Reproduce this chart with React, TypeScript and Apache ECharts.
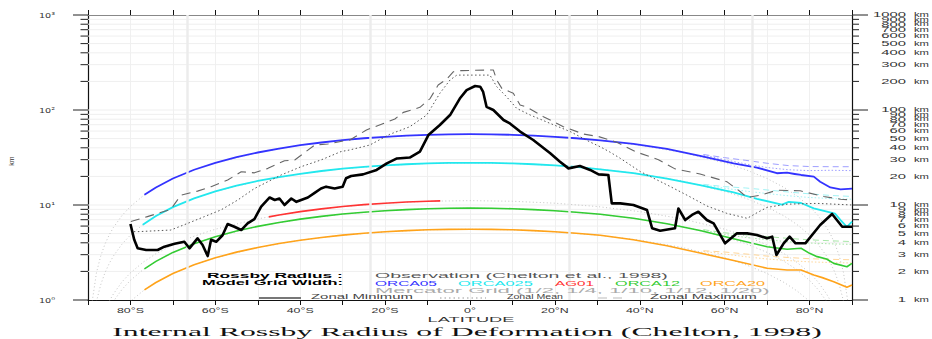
import React, { useEffect, useRef } from 'react';
import * as echarts from 'echarts';

// ---------------- data ----------------
const yTickValues = [1, 2, 3, 4, 5, 6, 7, 8, 9, 10, 20, 30, 40, 50, 60, 70, 80, 90, 100, 200, 300, 400, 500, 600, 700, 800, 900, 1000];
const yMajorLabels: Record<number, string> = { 1: '10⁰', 10: '10¹', 100: '10²', 1000: '10³' };
const xLabelValues = [-80, -60, -40, -20, 0, 20, 40, 60, 80];
const xLabelTexts = ['80°S', '60°S', '40°S', '20°S', '0°', '20°N', '40°N', '60°N', '80°N'];
const specialLats = [-66.56, -23.44, 23.44, 66.56];

// Observation (Chelton et al., 1998) — zonal minimum (thick black)
const obsMinLat = [-80, -79.1, -78.3, -76.3, -73.6, -72, -69.6, -67.3, -66.1, -64.2, -63, -61.8, -61, -59.8, -58.3, -57.1, -55.5, -53.9, -52.4, -50.8, -49.2, -47.2, -46, -44.9, -43.7, -42.1, -40.9, -38.2, -36.6, -35.1, -33.9, -31.9, -30, -29.2, -28, -25.2, -22, -19.6, -17.2, -14.2, -11.8, -9.8, -7.1, -4.7, -2.4, -0.8, 1.2, 2.4, 3.1, 3.9, 5.5, 7.9, 9.4, 11.8, 14.9, 18.9, 21.2, 23.2, 25.9, 28.3, 30.3, 32.6, 33.4, 35.4, 38.5, 41.7, 42.9, 44.8, 48.3, 49.1, 50.7, 52.3, 53.8, 55.8, 57.4, 60.1, 62.9, 65.3, 67.6, 70, 71.2, 72.2, 73.9, 75.3, 76.7, 79, 82.5, 85.3, 87.7, 90];
const obsMin = [6.3, 4.3, 3.5, 3.36, 3.36, 3.64, 3.9, 4.1, 3.5, 4.46, 3.8, 2.9, 4.3, 4.1, 4.8, 6.3, 5.9, 5.45, 6.4, 7.1, 9.6, 12.0, 11.3, 11.7, 10.0, 11.7, 10.8, 12.0, 13.4, 14.9, 15.6, 14.9, 15.6, 19.1, 20.2, 21.0, 23.4, 27.4, 30.9, 31.6, 36.5, 54.5, 69.5, 88.5, 132, 162, 179, 176, 155, 108, 100, 78.5, 72.2, 59.3, 48.3, 35, 28.6, 24.3, 25.7, 23.4, 21.0, 20.7, 10.4, 10.4, 10.0, 8.86, 5.7, 5.36, 5.7, 9.2, 6.95, 7.86, 8.5, 6.95, 6.4, 3.95, 5.03, 5.03, 4.83, 4.46, 4.64, 2.98, 3.95, 4.64, 3.95, 3.95, 6.16, 8.05, 5.9, 5.9];
// Observation — zonal mean (dotted)
const obsMeanLat = [-79.2, -78.3, -70.5, -66.5, -62.6, -58.7, -54.7, -50.8, -44.5, -39.8, -35.1, -30.4, -28.3, -23.6, -18.9, -14.2, -10.2, -7.1, -4.7, -3.1, 4.7, 6.3, 8.6, 11, 14.2, 18.9, 23.6, 28.3, 30.7, 33, 35.4, 40.1, 46.4, 51.1, 55.8, 60.5, 65.3, 67.6, 70, 74.7, 81.8, 90];
const obsMean = [5.24, 5.24, 5.45, 6.41, 7.54, 8.86, 11.3, 14.9, 20.7, 25.3, 29.8, 36.5, 38, 42.8, 55.5, 66.6, 88.5, 150, 207, 233, 233, 176, 138, 104, 88.5, 72.2, 59.3, 46, 41, 36, 31, 22.5, 16.3, 12.7, 9.77, 8.17, 7.24, 8.28, 9.44, 10.2, 10.4, 10.0];
// Observation — zonal maximum (dashed)
const obsMaxLat = [-79.9, -76, -70.5, -68.1, -64.2, -61, -57.1, -53.9, -50.8, -47.6, -43.7, -41.3, -36.6, -33.5, -29.6, -28.3, -24.4, -20.4, -17.7, -15.7, -11.8, -9.4, -7.5, -5.5, -3.9, -2, 5.5, 6.3, 7.5, 10.2, 11.8, 13.4, 17.3, 22, 26.7, 30.3, 34.6, 39.3, 44.4, 48.3, 54.2, 60.5, 63.7, 65.3, 68.4, 72.3, 77.8, 83.3, 87.3, 90];
const obsMax = [6.7, 7.54, 9.0, 12.7, 14.0, 15.6, 18.3, 22.4, 21.8, 24.3, 29.2, 29.8, 42.8, 43.9, 47.5, 48.3, 61.6, 72.2, 80.4, 94.4, 106.7, 132, 183, 211, 253, 260, 264, 207, 169, 150, 113, 107, 85, 66.8, 55.9, 52.5, 45.7, 36, 30, 24, 21.2, 17.6, 13.8, 12.0, 12.7, 14.3, 14.1, 12.3, 11.5, 11.3];

// Model grid width — zonal minimum (solid colours)
const orca05Lat = [-76.7, -74, -70, -65, -60, -55, -50, -45, -40, -35, -30, -25, -20, -15, -10, -5, 0, 5, 10, 15, 20, 25, 30.7, 38.5, 46.4, 54.2, 62.1, 67.6, 72.3, 74.7, 76.5, 78, 81, 82.5, 84.9, 87.3, 90];
const orca05 = [12.8, 15.3, 19.0, 23.5, 27.8, 31.9, 35.7, 39.3, 42.6, 45.5, 48.2, 50.4, 52.2, 53.7, 54.8, 55.4, 55.6, 55.4, 54.8, 53.7, 52.2, 50.4, 48, 44, 39, 32.8, 27.5, 24.8, 21.6, 21.9, 21.2, 20.7, 19.9, 17.6, 15.3, 14.6, 14.9];
const orca025Lat = [-77.1, -74, -70, -65, -60, -55, -50, -45, -40, -35, -30, -25, -20, -15, -10, -5, 0, 5, 10, 15, 20, 25, 30.7, 38.5, 46.4, 54.2, 62.1, 67.6, 73.5, 75.1, 78, 81, 84.1, 86, 87.3, 88.8, 90];
const orca025 = [6.2, 7.66, 9.5, 11.75, 13.9, 15.95, 17.9, 19.7, 21.3, 22.8, 24.1, 25.2, 26.1, 26.85, 27.4, 27.7, 27.8, 27.7, 27.4, 26.85, 26.1, 25.2, 23.7, 21.6, 18.9, 16.2, 13.6, 11.6, 10.1, 10.8, 10.5, 9.2, 8.5, 8.1, 6.95, 5.9, 6.7];
const ag01Lat = [-47.4, -45, -40, -35, -30, -25, -20, -15, -10, -7];
const ag01 = [7.5, 7.86, 8.52, 9.1, 9.63, 10.08, 10.45, 10.74, 10.95, 11.04];
const orca12Lat = [-76.7, -74, -70, -65, -60, -55, -50, -45, -40, -35, -30, -25, -20, -15, -10, -5, 0, 5, 10, 15, 20, 25, 30.7, 38.5, 46.4, 54.2, 62.1, 70, 74.7, 78, 80, 81.8, 84, 85.7, 88.8, 90];
const orca12 = [2.13, 2.55, 3.17, 3.92, 4.63, 5.32, 5.96, 6.55, 7.1, 7.59, 8.03, 8.4, 8.71, 8.95, 9.13, 9.23, 9.27, 9.23, 9.13, 8.95, 8.71, 8.4, 8.0, 7.24, 6.35, 5.4, 4.42, 3.64, 3.42, 3.5, 3.1, 2.86, 2.7, 2.43, 2.24, 2.43];
const orca20Lat = [-76.7, -74, -70, -65, -60, -55, -50, -45, -40, -35, -30, -25, -20, -15, -10, -5, 0, 5, 10, 15, 20, 25, 30.7, 38.5, 46.4, 54.2, 62.1, 70, 74.7, 78, 81, 83, 85.7, 88.8, 90];
const orca20 = [1.28, 1.53, 1.9, 2.35, 2.78, 3.19, 3.57, 3.93, 4.26, 4.55, 4.82, 5.04, 5.22, 5.37, 5.48, 5.54, 5.56, 5.54, 5.48, 5.37, 5.22, 5.04, 4.8, 4.3, 3.72, 3.12, 2.6, 2.16, 2.07, 2.07, 1.83, 1.72, 1.56, 1.36, 1.44];

// Model grid width — zonal maximum / mean north of 55°N (light colours)
const northLat = [55, 60, 65, 70, 75, 80, 85, 90];
const orca05Max = [34, 31.5, 29.5, 27.5, 26, 25.4, 25.3, 25.3];
const orca05Mean = [33.5, 30, 27, 24.8, 23.5, 23.0, 23.2, 23.0];
const orca025Max = [16.5, 15.6, 15.1, 14.4, 13.7, 13.1, 12.6, 12.3];
const orca025Mean = [16.3, 15, 14, 13.2, 12.5, 12, 11.7, 11.5];
const orca12Max = [5.5, 5.1, 4.85, 4.65, 4.45, 4.3, 4.2, 4.12];
const orca12Mean = [5.45, 4.9, 4.55, 4.3, 4.1, 3.98, 3.9, 3.85];
const orca20Max = [3.3, 3.2, 3.05, 2.9, 2.8, 2.72, 2.68, 2.65];
const orca20Mean = [3.25, 3.05, 2.85, 2.7, 2.6, 2.52, 2.48, 2.45];

// Mercator grid widths (light grey dotted)
const mercLat = [-89, -88, -87, -86, -85, -84, -82, -80, -77, -74, -70, -65, -60, -50, -40, -30, -20, -10, 0, 10, 20, 30, 40, 50, 60, 65, 70, 74, 77, 80, 82, 84, 85, 86, 87, 88, 89];
const merc05 = [0.97, 1.94, 2.91, 3.88, 4.85, 5.81, 7.74, 9.65, 12.5, 15.3, 19.0, 23.5, 27.8, 35.7, 42.6, 48.2, 52.2, 54.8, 55.6, 54.8, 52.2, 48.2, 42.6, 35.7, 27.8, 23.5, 19.0, 15.3, 12.5, 9.65, 7.74, 5.81, 4.85, 3.88, 2.91, 1.94, 0.97];
const merc025 = [0.49, 0.97, 1.45, 1.94, 2.42, 2.91, 3.87, 4.83, 6.25, 7.66, 9.51, 11.75, 13.9, 17.9, 21.3, 24.1, 26.1, 27.4, 27.8, 27.4, 26.1, 24.1, 21.3, 17.9, 13.9, 11.75, 9.51, 7.66, 6.25, 4.83, 3.87, 2.91, 2.42, 1.94, 1.45, 0.97, 0.49];
const merc10 = [0.19, 0.39, 0.58, 0.78, 0.97, 1.16, 1.55, 1.93, 2.5, 3.07, 3.8, 4.7, 5.56, 7.15, 8.52, 9.63, 10.45, 10.95, 11.12, 10.95, 10.45, 9.63, 8.52, 7.15, 5.56, 4.7, 3.8, 3.07, 2.5, 1.93, 1.55, 1.16, 0.97, 0.78, 0.58, 0.39, 0.19];
const merc12 = [0.16, 0.32, 0.49, 0.65, 0.81, 0.97, 1.29, 1.61, 2.09, 2.55, 3.17, 3.92, 4.63, 5.96, 7.1, 8.03, 8.71, 9.13, 9.27, 9.13, 8.71, 8.03, 7.1, 5.96, 4.63, 3.92, 3.17, 2.55, 2.09, 1.61, 1.29, 0.97, 0.81, 0.65, 0.49, 0.32, 0.16];
const merc20 = [0.1, 0.19, 0.29, 0.39, 0.48, 0.58, 0.77, 0.97, 1.25, 1.53, 1.9, 2.35, 2.78, 3.57, 4.26, 4.82, 5.22, 5.48, 5.56, 5.48, 5.22, 4.82, 4.26, 3.57, 2.78, 2.35, 1.9, 1.53, 1.25, 0.97, 0.77, 0.58, 0.48, 0.39, 0.29, 0.19, 0.1];

// texts
const titleText = 'Internal Rossby Radius of Deformation (Chelton, 1998)';
const xAxisName = 'LATITUDE';
const yAxisName = 'km';

// ---------------- helpers ----------------
const SANS = "'Liberation Sans', Arial, sans-serif";
const SERIF = "'Liberation Serif', 'Times New Roman', serif";
const DJV = "'DejaVu Sans', sans-serif";
let _ctx: CanvasRenderingContext2D | null = null;
function textWidth(t: string, font: string): number {
  if (!_ctx) _ctx = document.createElement('canvas').getContext('2d');
  if (!_ctx) return t.length * 4;
  _ctx.font = font;
  return _ctx.measureText(t).width || 1;
}
function fit(t: string, size: number, family: string, target: number, weight = 'normal') {
  return target / textWidth(t, `${weight} ${size}px ${family}`);
}
const pair = (lats: number[], vals: number[]) => lats.map((l, i) => [l, vals[i]]);

function lineSeries(name: string, lats: number[], vals: number[], color: string, width: number, type: any, z: number, extra: any = {}) {
  return {
    name,
    type: 'line',
    data: pair(lats, vals),
    showSymbol: false,
    symbol: 'none',
    silent: true,
    z,
    lineStyle: { color, width, type, cap: 'butt', join: 'round' },
    ...extra,
  };
}

function buildOption() {
  const rightNumScale = fit('1000', 7, SANS, 33);
  const kmScale = fit('km', 7, SANS, 15);
  const xLabScale = fit('80°S', 7, SANS, 27);
  const leftLabScale = fit('10⁰', 7, DJV, 16);

  const legendTexts = [
    { text: 'Rossby Radius :', x: 207, y: 276, w: 136, color: '#000', bold: true },
    { text: 'Model Grid Width:', x: 202, y: 283, w: 141, color: '#000', bold: true },
    { text: 'Observation (Chelton et al., 1998)', x: 375, y: 276, w: 293, color: '#555' },
    { text: 'ORCA05', x: 375, y: 284, w: 62, color: '#3333ff' },
    { text: 'ORCA025', x: 458, y: 284, w: 75, color: '#22e8ee' },
    { text: 'AG01', x: 555, y: 284, w: 39, color: '#ff3333' },
    { text: 'ORCA12', x: 615, y: 284, w: 65, color: '#33cc33' },
    { text: 'ORCA20', x: 700, y: 284, w: 65, color: '#ffa31a' },
    { text: 'Mercator Grid (1/2, 1/4, 1/10, 1/12, 1/20)', x: 375, y: 290, w: 395, color: '#aaaaaa' },
    { text: 'Zonal Minimum', x: 311, y: 296.5, w: 102, color: '#444' },
    { text: 'Zonal Mean', x: 507, y: 296.5, w: 56, color: '#444' },
    { text: 'Zonal Maximum', x: 650, y: 296.5, w: 107, color: '#444' },
  ];

  const graphic: any[] = legendTexts.map((t) => ({
    type: 'text',
    x: t.x,
    y: t.y,
    scaleX: fit(t.text, 7, SANS, t.w, t.bold ? 'bold' : 'normal'),
    silent: true,
    z: 20,
    style: {
      text: t.text, fill: t.color, fontSize: 7, fontFamily: SANS, fontWeight: t.bold ? 'bold' : 'normal',
      textAlign: 'left', align: 'left', textVerticalAlign: 'middle', verticalAlign: 'middle',
    },
  }));
  graphic.push(
    { type: 'line', silent: true, z: 20, shape: { x1: 259, y1: 298, x2: 301, y2: 298 }, style: { stroke: '#777', lineWidth: 2 } },
    { type: 'line', silent: true, z: 20, shape: { x1: 440, y1: 298, x2: 486, y2: 298 }, style: { stroke: '#999', lineWidth: 1, lineDash: [1.5, 3] } },
    { type: 'line', silent: true, z: 20, shape: { x1: 598, y1: 298, x2: 628, y2: 298 }, style: { stroke: '#bbb', lineWidth: 1.2, lineDash: [9, 6] } },
    {
      type: 'text', x: 467, y: 331, silent: true, scaleX: fit(titleText, 13, SERIF, 710),
      style: { text: titleText, fill: '#111', fontSize: 13, fontFamily: SERIF, textAlign: 'center', align: 'center', textVerticalAlign: 'middle', verticalAlign: 'middle' },
    },
    {
      type: 'text', x: 471, y: 319, silent: true, scaleX: fit(xAxisName, 7, SANS, 87),
      style: { text: xAxisName, fill: '#333', fontSize: 7, fontFamily: SANS, textAlign: 'center', align: 'center', textVerticalAlign: 'middle', verticalAlign: 'middle' },
    },
    {
      type: 'text', x: 11, y: 161, rotation: Math.PI / 2, silent: true,
      style: { text: yAxisName, fill: '#333', fontSize: 7, fontFamily: SANS, textAlign: 'center', align: 'center', textVerticalAlign: 'middle', verticalAlign: 'middle' },
    },
  );

  const yDecor = {
    type: 'custom',
    name: 'yTicks',
    coordinateSystem: 'cartesian2d',
    xAxisIndex: 0,
    yAxisIndex: 0,
    clip: false,
    silent: true,
    z: 1,
    data: yTickValues.map((v) => [0, v]),
    renderItem: (params: any, api: any) => {
      const v = api.value(1);
      const L = api.coord([-90, v]);
      const R = api.coord([90, v]);
      const major = v === 1 || v === 10 || v === 100 || v === 1000;
      const ch: any[] = [];
      if (v > 1 && v < 1000) {
        ch.push({ type: 'line', shape: { x1: L[0], y1: L[1], x2: R[0], y2: R[1] }, style: { stroke: '#efefef', lineWidth: 1 } });
      }
      ch.push({ type: 'line', shape: { x1: L[0] - (major ? 15 : 7.5), y1: L[1], x2: L[0], y2: L[1] }, style: { stroke: '#222', lineWidth: 1 } });
      ch.push({ type: 'line', shape: { x1: R[0], y1: R[1], x2: R[0] + (major ? 16 : 7), y2: R[1] }, style: { stroke: '#222', lineWidth: 1 } });
      ch.push({
        type: 'text', x: R[0] + 54, y: R[1], scaleX: rightNumScale,
        style: { text: String(v), fill: '#333', fontSize: 7, fontFamily: SANS, textAlign: 'right', align: 'right', textVerticalAlign: 'middle', verticalAlign: 'middle' },
      });
      ch.push({
        type: 'text', x: R[0] + 62, y: R[1], scaleX: kmScale,
        style: { text: 'km', fill: '#333', fontSize: 7, fontFamily: SANS, textAlign: 'left', align: 'left', textVerticalAlign: 'middle', verticalAlign: 'middle' },
      });
      if (yMajorLabels[v]) {
        ch.push({
          type: 'text', x: L[0] - 33, y: L[1], scaleX: leftLabScale,
          style: { text: yMajorLabels[v], fill: '#333', fontSize: 7, fontFamily: DJV, textAlign: 'right', align: 'right', textVerticalAlign: 'middle', verticalAlign: 'middle' },
        });
      }
      return { type: 'group', children: ch };
    },
  };

  const xDecor = {
    type: 'custom',
    name: 'xLabels',
    coordinateSystem: 'cartesian2d',
    xAxisIndex: 0,
    yAxisIndex: 0,
    clip: false,
    silent: true,
    z: 1,
    data: xLabelValues.map((v, i) => [v, 1, i]),
    renderItem: (params: any, api: any) => {
      const p = api.coord([api.value(0), 1]);
      const t = xLabelTexts[api.value(2)];
      return {
        type: 'text', x: p[0], y: p[1] + 11, scaleX: xLabScale,
        style: { text: t, fill: '#333', fontSize: 7, fontFamily: SANS, textAlign: 'center', align: 'center', textVerticalAlign: 'middle', verticalAlign: 'middle' },
      };
    },
  };

  const mercStyle = [1, 2.5];
  const series: any[] = [
    yDecor,
    xDecor,
    lineSeries('Mercator 1/2', mercLat, merc05, '#bdbdbd', 0.9, mercStyle, 2, {
      markLine: {
        silent: true, symbol: ['none', 'none'], label: { show: false },
        lineStyle: { color: '#ececec', width: 2.5, type: 'solid' },
        data: specialLats.map((l) => ({ xAxis: l })),
      },
    }),
    lineSeries('Mercator 1/4', mercLat, merc025, '#bdbdbd', 0.9, mercStyle, 2),
    lineSeries('Mercator 1/10', mercLat, merc10, '#bdbdbd', 0.9, mercStyle, 2),
    lineSeries('Mercator 1/12', mercLat, merc12, '#bdbdbd', 0.9, mercStyle, 2),
    lineSeries('Mercator 1/20', mercLat, merc20, '#bdbdbd', 0.9, mercStyle, 2),
    lineSeries('ORCA05 max', northLat, orca05Max, '#9f9fff', 1, [6, 4], 3),
    lineSeries('ORCA05 mean', northLat, orca05Mean, '#9f9fff', 1, [1.5, 2], 3),
    lineSeries('ORCA025 max', northLat, orca025Max, '#a0f2f4', 1, [6, 4], 3),
    lineSeries('ORCA025 mean', northLat, orca025Mean, '#a0f2f4', 1, [1.5, 2], 3),
    lineSeries('ORCA12 max', northLat, orca12Max, '#a8e6a8', 1, [6, 4], 3),
    lineSeries('ORCA12 mean', northLat, orca12Mean, '#a8e6a8', 1, [1.5, 2], 3),
    lineSeries('ORCA20 max', northLat, orca20Max, '#ffd699', 1, [6, 4], 3),
    lineSeries('ORCA20 mean', northLat, orca20Mean, '#ffd699', 1, [1.5, 2], 3),
    lineSeries('ORCA05', orca05Lat, orca05, '#3333ff', 1.8, 'solid', 4),
    lineSeries('ORCA025', orca025Lat, orca025, '#22e8ee', 1.8, 'solid', 4),
    lineSeries('AG01', ag01Lat, ag01, '#ff3333', 1.6, 'solid', 4),
    lineSeries('ORCA12', orca12Lat, orca12, '#33cc33', 1.6, 'solid', 4),
    lineSeries('ORCA20', orca20Lat, orca20, '#ffa31a', 1.6, 'solid', 4),
    lineSeries('Obs max', obsMaxLat, obsMax, '#666', 1.1, [9, 6], 5),
    lineSeries('Obs mean', obsMeanLat, obsMean, '#555', 1, [1.5, 2.5], 5),
    lineSeries('Obs min', obsMinLat, obsMin, '#000', 2.6, 'solid', 6),
  ];

  const xCommon = {
    type: 'value', min: -90, max: 90, interval: 10,
    axisLabel: { show: false },
    axisTick: { show: true, length: 5, inside: false, lineStyle: { color: '#111', width: 1 } },
  };

  return {
    animation: false,
    backgroundColor: '#ffffff',
    grid: { left: 88, right: 80, top: 15, bottom: 39, containLabel: false },
    xAxis: [
      { ...xCommon, position: 'bottom', axisLine: { show: true, onZero: false, lineStyle: { color: '#111', width: 1 } },
        splitLine: { show: true, lineStyle: { color: '#f0f0f0', width: 1 } } },
      { ...xCommon, position: 'top', axisLine: { show: true, onZero: false, lineStyle: { color: '#888', width: 1 } },
        splitLine: { show: false } },
    ],
    yAxis: [
      { type: 'log', logBase: 10, min: 1, max: 1000, position: 'left',
        axisLine: { show: true, onZero: false, lineStyle: { color: '#111', width: 1.2 } },
        axisTick: { show: false }, axisLabel: { show: false }, splitLine: { show: false } },
      { type: 'log', logBase: 10, min: 1, max: 1000, position: 'right',
        axisLine: { show: true, onZero: false, lineStyle: { color: '#111', width: 1.2 } },
        axisTick: { show: false }, axisLabel: { show: false }, splitLine: { show: false } },
    ],
    graphic,
    series,
  };
}

export default function App() {
  const ref = useRef<HTMLDivElement>(null);
  useEffect(() => {
    document.body.style.margin = '0';
    if (!ref.current) return;
    const chart = echarts.init(ref.current, null, { renderer: 'svg' });
    chart.setOption(buildOption() as any);
    return () => chart.dispose();
  }, []);
  return (
    <div
      ref={ref}
      style={{ position: 'fixed', left: 0, top: 0, width: 932, height: 339, background: '#fff' }}
    />
  );
}
